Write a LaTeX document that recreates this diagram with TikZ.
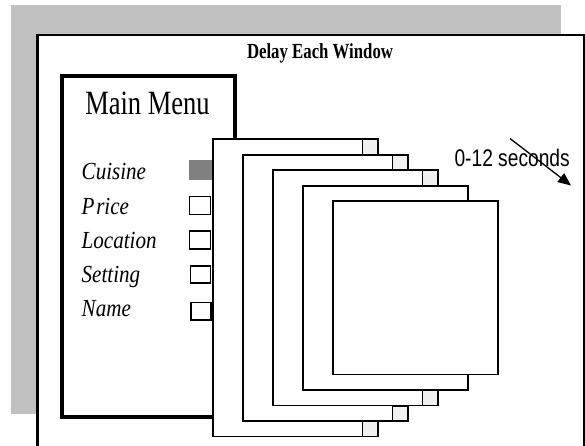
\documentclass[tikz,border=0pt]{standalone}
\usepackage{fontspec}
\setmainfont{Liberation Serif}
\newfontfamily\narrowsans{Liberation Sans}
\usetikzlibrary{arrows.meta}
\definecolor{shadowgray}{HTML}{C0C0C0}
\definecolor{tabgray}{HTML}{F0F0F0}
\definecolor{checkgray}{HTML}{808080}
\begin{document}
\begin{tikzpicture}[x=1pt,y=-1pt,
  winbox/.style={draw=black, fill=white, line width=1.8pt},
  tabbox/.style={draw=black, fill=tabgray, line width=1.5pt},
  checkbox/.style={draw=black, fill=white, line width=1.1pt},
  itemlabel/.style={anchor=base west, inner sep=0pt},
]
\useasboundingbox (0,0) rectangle (585,446);
\begin{scope}
\clip (0,0) rectangle (585,446);
% shadow
\fill[shadowgray] (10.5,5) rectangle (560.5,414);
% outer frame
\draw[line width=2.5pt, fill=white] (37.7,35) rectangle (584,470);
\node[anchor=base, inner sep=0pt] (title) at (320,59)
  {\scalebox{0.78}[1]{\fontsize{21.5}{21.5}\selectfont\bfseries Delay Each Window}};
% main menu
\draw[line width=4pt, fill=white] (61.5,76.5) rectangle (235,416.7);
\node[anchor=base, inner sep=0pt] (mainmenu) at (147.5,115)
  {\scalebox{0.78}[1]{\fontsize{34}{34}\selectfont Main Menu}};
\node[itemlabel] (cuisine) at (81.5,179.3) {\scalebox{0.86}[1]{\fontsize{24.5}{24.5}\selectfont\itshape Cuisine}};
\node[itemlabel] (price) at (81.5,214) {\scalebox{0.86}[1]{\fontsize{24.5}{24.5}\selectfont\itshape P\kern2pt rice}};
\node[itemlabel] (location) at (81.5,248.3) {\scalebox{0.86}[1]{\fontsize{24.5}{24.5}\selectfont\itshape Location}};
\node[itemlabel] (setting) at (81.5,282) {\scalebox{0.86}[1]{\fontsize{24.5}{24.5}\selectfont\itshape Setting}};
\node[itemlabel] (name) at (81.5,316.7) {\scalebox{0.86}[1]{\fontsize{24.5}{24.5}\selectfont\itshape Name}};
% check boxes
\fill[checkgray] (189.3,160) rectangle (213,180);
\draw[checkbox] (189.5,196.7) rectangle (210.3,214.3);
\draw[checkbox] (189.8,231) rectangle (210.3,249);
\draw[checkbox] (190.5,266) rectangle (210.5,283);
\draw[checkbox] (191,302.7) rectangle (211,320);
% stacked windows
\foreach \i in {0,...,4}{
  \pgfmathsetmacro{\wl}{212.7+30*\i}
  \pgfmathsetmacro{\wr}{\wl+165}
  \pgfmathsetmacro{\wt}{139.3+15.5*\i}
  \pgfmathsetmacro{\wb}{436.5-15.5*\i}
  \draw[winbox] (\wl,\wt) rectangle (\wr,\wb);
  \ifnum\i<3
    \draw[tabbox] (\wr-15,\wt) rectangle (\wr,\wt+15);
    \draw[tabbox] (\wr-15,\wb-15) rectangle (\wr,\wb);
  \fi
}
% delay label and arrow
\node[anchor=base west, inner sep=0pt] (secs) at (454.3,166.5)
  {\scalebox{0.8}[1]{\narrowsans\fontsize{24}{24}\selectfont 0-12 seconds}};
\coordinate (arrstart) at (510,138.5);
\coordinate (arrend) at (571,185.5);
\draw[line width=1.3pt, -{Triangle[length=13pt,width=11pt]}] (arrstart) -- (arrend);
\end{scope}
\end{tikzpicture}
\end{document}
